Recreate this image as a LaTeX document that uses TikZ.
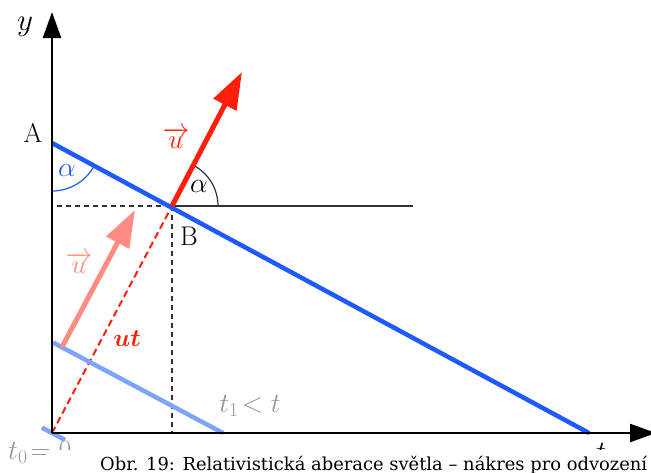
\RequirePackage{fix-cm}
\documentclass[tikz,border=0pt]{standalone}
\usepackage{amsmath}
\usepackage{fontspec}
\newfontfamily\capfont{DejaVu Serif}
\usetikzlibrary{arrows.meta,calc}
\definecolor{lineblue}{RGB}{30,90,255}
\definecolor{lightblue}{RGB}{125,165,255}
\definecolor{vecred}{RGB}{255,30,10}
\definecolor{vecpink}{RGB}{255,140,130}
\definecolor{tgray}{RGB}{150,150,150}
\definecolor{dark}{RGB}{50,50,50}
\tikzset{
  axis/.style={line width=2.4pt,-{Triangle[length=26pt,width=18pt]}},
  wave/.style={line width=4.5pt,color=lineblue},
  oldwave/.style={line width=4.5pt,color=lightblue},
  vecarrow/.style={line width=5pt,-{Triangle[length=37pt,width=25pt]}},
  guide/.style={dark,line width=1.3pt,dash pattern=on 5pt off 4pt},
  lbl/.style={inner sep=0pt,font=\fontsize{24}{28}\selectfont},
  big/.style={font=\fontsize{28}{32}\selectfont},
  pointlbl/.style={font=\fontsize{27}{30}\selectfont},
}
\begin{document}
\begin{tikzpicture}[x=1pt,y=-1pt]
\useasboundingbox (0,0) rectangle (651,472);
\clip (0,0) rectangle (651,472);
\coordinate (O) at (52,433);
\coordinate (A) at (52,143);
\coordinate (B) at (172,206);
\coordinate (E) at (589,433);
\coordinate (ytip) at (52,12);
\coordinate (xtip) at (656,433);
\coordinate (H) at (413,206);
\coordinate (Hd) at (57,206);
\coordinate (Bd) at (172,433);
\coordinate (Rtip) at (242,72);
\coordinate (P0) at (62,347);
\coordinate (Ptip) at (135,210);
\coordinate (L1) at (53,342.5);
\coordinate (L2) at (223,433);
\coordinate (S1) at (42,427.6);
\coordinate (S2) at (65,440);
% guides
\draw[guide] (Hd) -- (B);
\draw[guide] (B) -- (Bd);
\draw[dark,line width=1.5pt] (B) -- (H);
% angle arcs
\draw[dark,line width=1.2pt] ($(B)+(46,0)$) arc[start angle=0,end angle=-62.4,radius=46];
\draw[lineblue,line width=1.2pt] ($(A)+(0,48)$) arc[start angle=90,end angle=28.4,radius=48];
% red dashed
\draw[vecred,line width=2pt,dash pattern=on 7pt off 4pt] (O) -- (B);
% waves
\draw[oldwave] (L1) -- (L2);
\draw[oldwave] (S1) -- (S2);
\draw[wave] (A) -- (E);
% vectors
\draw[vecarrow,vecpink] (P0) -- (Ptip);
\draw[vecarrow,vecred] (B) -- (Rtip);
% axes
\draw[axis] (O) -- (ytip);
\draw[axis] (O) -- (xtip);
% labels
\node[lbl,font=\fontsize{31}{34}\selectfont] (ylab) at (25,27) {$y$};
\node[lbl,pointlbl] (Alab) at (33,133) {A};
\node[lbl,pointlbl] (Blab) at (189,236) {B};
\node[lbl,lineblue,big] (alpha1) at (67,170) {$\alpha$};
\node[lbl,big] (alpha2) at (199,186) {$\alpha$};
\node[lbl,vecred,font=\fontsize{27}{30}\selectfont] (u1) at (176,138) {$\overrightarrow{u}$};
\node[lbl,vecpink,font=\fontsize{27}{30}\selectfont] (u2) at (79,263) {$\overrightarrow{u}$};
\node[lbl,vecred,font=\fontsize{25}{28}\selectfont] (ut) at (127,339) {$\boldsymbol{ut}$};
\node[lbl,tgray,big] (t1) at (250,406) {$t_1\!<t$};
\node[lbl,tgray,big,anchor=north west] (t0) at (8,441) {$t_0\!=0$};
\node[lbl,big,anchor=north] (tlab) at (601,443) {$t$};
% caption panel
\fill[white] (46,450) rectangle (651,472);
\node[lbl,anchor=base west,font=\capfont\fontsize{17.9}{20}\selectfont] (cap) at (100,470) {Obr. 19: Relativistická aberace světla – nákres pro odvození};
\end{tikzpicture}
\end{document}
